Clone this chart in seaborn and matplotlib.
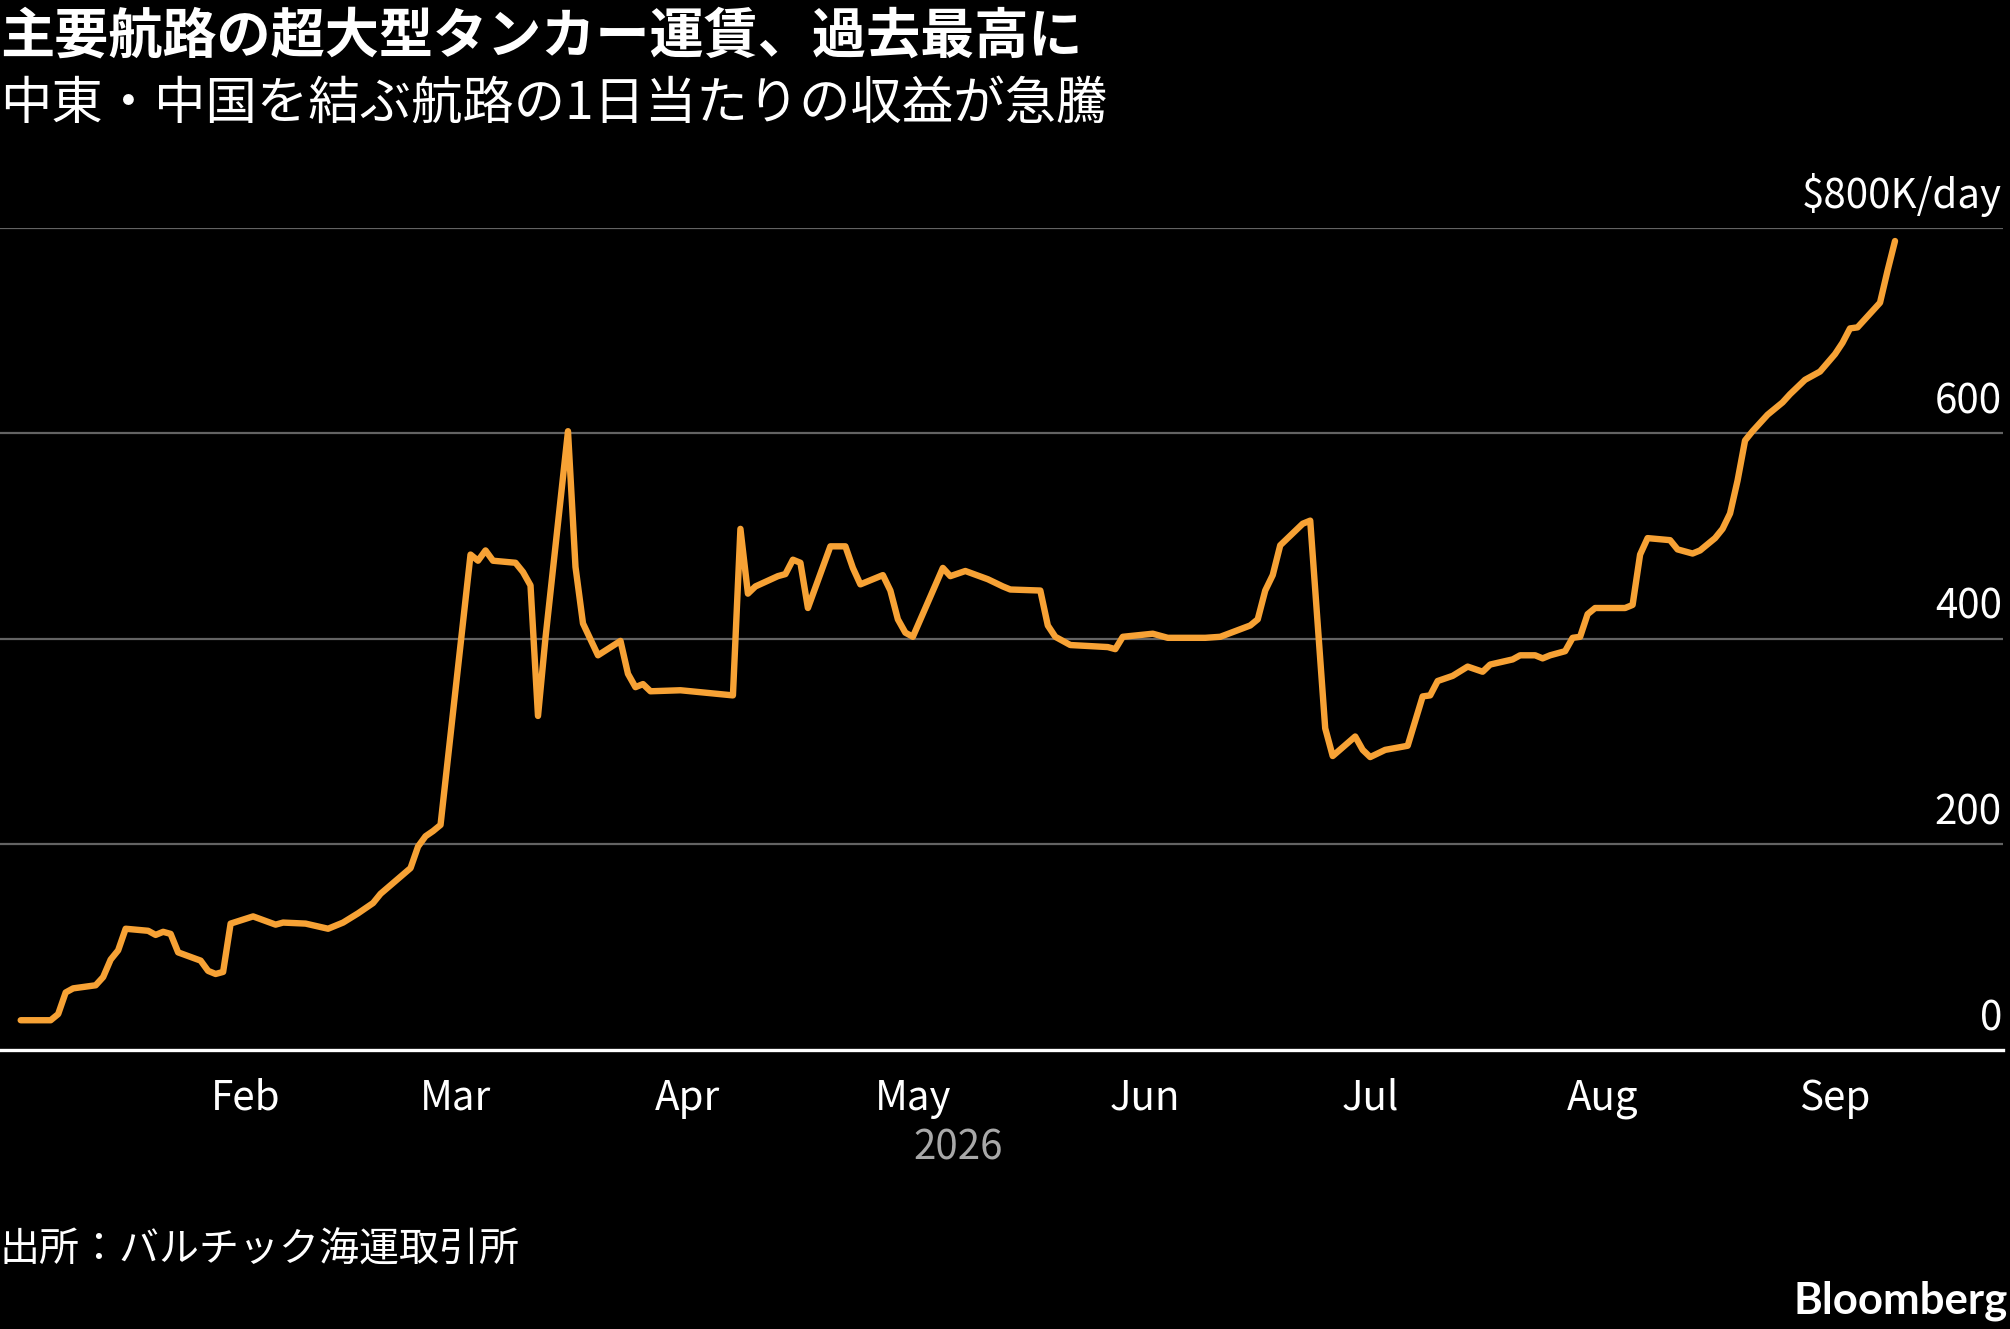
import numpy as np
import matplotlib
matplotlib.use("Agg")
import matplotlib.pyplot as plt
import matplotlib.dates as mdates
import matplotlib.transforms as mtransforms
import pandas as pd
import seaborn as sns

# data (VLCC Middle East -> China earnings, $K/day)
dates = [
    "2026-01-02", "2026-01-06", "2026-01-07", "2026-01-08", "2026-01-09", "2026-01-12",
    "2026-01-13", "2026-01-14", "2026-01-15", "2026-01-16", "2026-01-19", "2026-01-20",
    "2026-01-21", "2026-01-22", "2026-01-23", "2026-01-26", "2026-01-27", "2026-01-28",
    "2026-01-29", "2026-01-30", "2026-02-02", "2026-02-05", "2026-02-06", "2026-02-09",
    "2026-02-12", "2026-02-14", "2026-02-16", "2026-02-18", "2026-02-19", "2026-02-23",
    "2026-02-24", "2026-02-25", "2026-02-26", "2026-02-27", "2026-03-03", "2026-03-04",
    "2026-03-05", "2026-03-06", "2026-03-09", "2026-03-10", "2026-03-11", "2026-03-12",
    "2026-03-13", "2026-03-16", "2026-03-17", "2026-03-18", "2026-03-20", "2026-03-23",
    "2026-03-24", "2026-03-25", "2026-03-26", "2026-03-27", "2026-03-31", "2026-04-07",
    "2026-04-08", "2026-04-09", "2026-04-10", "2026-04-13", "2026-04-14", "2026-04-15",
    "2026-04-16", "2026-04-17", "2026-04-20", "2026-04-22", "2026-04-23", "2026-04-24",
    "2026-04-27", "2026-04-28", "2026-04-29", "2026-04-30", "2026-05-01", "2026-05-05",
    "2026-05-06", "2026-05-08", "2026-05-11", "2026-05-13", "2026-05-14", "2026-05-18",
    "2026-05-19", "2026-05-20", "2026-05-22", "2026-05-27", "2026-05-28", "2026-05-29",
    "2026-06-02", "2026-06-04", "2026-06-09", "2026-06-11", "2026-06-15", "2026-06-16",
    "2026-06-17", "2026-06-18", "2026-06-19", "2026-06-22", "2026-06-23", "2026-06-25",
    "2026-06-26", "2026-06-29", "2026-06-30", "2026-07-01", "2026-07-03", "2026-07-06",
    "2026-07-08", "2026-07-09", "2026-07-10", "2026-07-12", "2026-07-14", "2026-07-16",
    "2026-07-17", "2026-07-20", "2026-07-21", "2026-07-23", "2026-07-24", "2026-07-25",
    "2026-07-27", "2026-07-28", "2026-07-29", "2026-07-30", "2026-07-31", "2026-08-04",
    "2026-08-05", "2026-08-06", "2026-08-07", "2026-08-10", "2026-08-11", "2026-08-13",
    "2026-08-14", "2026-08-16", "2026-08-17", "2026-08-18", "2026-08-19", "2026-08-20",
    "2026-08-21", "2026-08-23", "2026-08-25", "2026-08-26", "2026-08-28", "2026-08-30",
    "2026-09-01", "2026-09-02", "2026-09-03", "2026-09-04", "2026-09-07", "2026-09-08",
    "2026-09-09",
]
earnings = [
    29, 29, 35, 56, 60, 63,
    71, 88, 97, 118, 116, 112,
    115, 113, 95, 87, 77, 74,
    76, 123, 130, 122, 124, 123,
    118, 124, 133, 143, 152, 177,
    198, 208, 213, 219, 482, 476,
    486, 476, 474, 465, 452, 325,
    401, 602, 470, 415, 384, 398,
    366, 353, 356, 349, 350, 345,
    507, 444, 451, 461, 463, 477,
    474, 430, 490, 490, 469, 453,
    462, 447, 419, 406, 402, 469,
    461, 466, 458, 451, 448, 447,
    413, 402, 394, 392, 390, 402,
    405, 401, 401, 402, 413, 419,
    447, 462, 491, 512, 515, 313,
    286, 305, 292, 285, 292, 296,
    344, 345, 359, 364, 373, 368,
    375, 380, 384, 384, 381, 384,
    388, 401, 402, 424, 430, 430,
    433, 482, 498, 496, 487, 483,
    486, 498, 507, 522, 554, 593,
    602, 618, 630, 638, 652, 660,
    677, 688, 702, 703, 727, 758,
    787,
]
y_ticks = [0, 200, 400, 600, 800]
y_labels = ["0", "200", "400", "600", "$800K/day"]

title = "主要航路の超大型タンカー運賃、過去最高に"
subtitle = "中東・中国を結ぶ航路の1日当たりの収益が急騰"
source = "出所：バルチック海運取引所"

sns.set_theme(style="dark")
plt.rcParams['font.family'] = ['Noto Sans CJK JP', 'DejaVu Sans']
plt.rcParams['axes.unicode_minus'] = False

LINE = "#f7a235"
FG = "#ffffff"

df = pd.DataFrame({"date": pd.to_datetime(dates), "value": earnings})

fig = plt.figure(figsize=(20.1, 13.29), dpi=100, facecolor="black")
ax = fig.add_axes([0.0, 0.2099, 0.9965, 0.6188])
ax.set_facecolor("black")

sns.lineplot(data=df, x="date", y="value", ax=ax, color=LINE, linewidth=4.6,
             solid_joinstyle="round", solid_capstyle="round")

jan1 = mdates.date2num(pd.Timestamp("2026-01-01"))
ax.set_xlim(jan1 - 1.76, jan1 + 265.4)
ax.set_ylim(0, 800)

# grid lines
ax.set_yticks(y_ticks)
ax.set_yticklabels([])
ax.tick_params(axis="y", length=0)
for v in y_ticks[1:]:
    ax.axhline(v, color="#636363", lw=1.6, zorder=0)
ax.grid(False)

# y labels sitting on the right, above each grid line
trans = mtransforms.offset_copy(ax.get_yaxis_transform(), fig=fig, x=0, y=11, units="dots")
for v, lab in zip(y_ticks, y_labels):
    ax.text(0.9995, v, lab, transform=trans, ha="right", va="bottom",
            color=FG, fontsize=29)

# x axis
ax.xaxis.set_major_locator(mdates.MonthLocator(bymonth=range(2, 10)))
ax.xaxis.set_major_formatter(mdates.DateFormatter("%b"))
ax.tick_params(axis="x", direction="out", length=14, width=1.3, color=FG,
               labelcolor=FG, labelsize=29, pad=6)
ax.set_xlabel("")
ax.set_ylabel("")
for s in ["left", "right", "top"]:
    ax.spines[s].set_visible(False)
ax.spines["bottom"].set_color(FG)
ax.spines["bottom"].set_linewidth(2.4)

fig.text(0.4766, 1 - 1128 / 1329, "2026", color="#a8a8a8", fontsize=29,
         ha="center", va="top")

fig.text(0.0, 1 - 10 / 1329, title, color=FG, fontsize=39, fontweight="bold",
         ha="left", va="top")
fig.text(0.0, 1 - 77 / 1329, subtitle, color=FG, fontsize=37,
         ha="left", va="top")
fig.text(0.0, 1 - 1231 / 1329, source, color=FG, fontsize=28.8,
         ha="left", va="top")
fig.text(0.999, 1 - 1321 / 1329, "Bloomberg", color=FG, fontsize=31.5,
         fontweight="bold", family="Lato", ha="right", va="bottom")

fig.savefig("out.png", dpi=100, facecolor="black")
